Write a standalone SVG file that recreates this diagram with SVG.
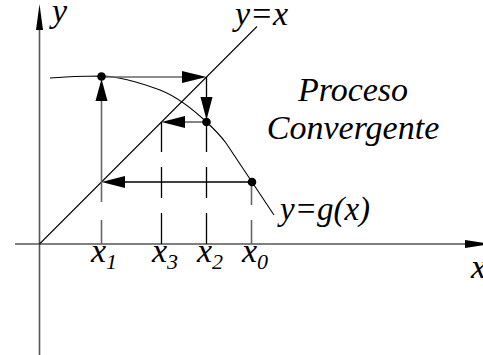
<svg xmlns="http://www.w3.org/2000/svg" width="483" height="355" viewBox="0 0 483 355">
<rect width="483" height="355" fill="#fff"/>
<g id="axes" stroke="#555" stroke-width="1.6" fill="none">
<line x1="39.5" y1="28" x2="39.5" y2="355"/>
<line x1="15" y1="244" x2="467" y2="244"/>
<polygon points="39.5,4 43,30 36,30" fill="#000" stroke="none"/>
<polygon points="491,244 465,240 465,248" fill="#000" stroke="none"/>
</g>
<g id="curves" stroke="#000" stroke-width="1.1" fill="none">
<line x1="39.5" y1="244" x2="257" y2="26.5"/>
<path d="M50,78 C67,76.5 85,76 101.5,76 C121,76.5 141,83 160,90 C175.6,96.1 191.1,107.6 206.5,122 C213,128 220,135 226,143 L274,215"/>
</g>
<g id="connectors" fill="none">
<g stroke="#666" stroke-width="1.6">
<path d="M101.5,100 V202 M101.5,220 V244"/>
<line x1="101.5" y1="77" x2="184" y2="77"/>
<line x1="206.5" y1="122" x2="184" y2="122"/>
<path d="M251.5,182 V205 M251.5,220 V244"/>
</g>
<g stroke="#000" stroke-width="1.3">
<line x1="206.5" y1="77" x2="206.5" y2="98"/>
<line x1="251.5" y1="182" x2="124" y2="182"/>
<path d="M161.5,122 V152 M161.5,167 V198 M161.5,213 V244"/>
<path d="M206.5,122 V152 M206.5,167 V198 M206.5,213 V244"/>
</g>
<g fill="#000" stroke="none">
<polygon points="101.5,79 107.5,101 95.5,101"/>
<polygon points="206.5,77 182,71 182,83"/>
<polygon points="206.5,120 200.5,97 212.5,97"/>
<polygon points="161.5,122 185,116 185,128"/>
<polygon points="101.5,182 125,176 125,188"/>
</g>
</g>
<g id="points" fill="#000">
<circle cx="101.5" cy="76.5" r="4.3"/>
<circle cx="206.5" cy="122" r="4.3"/>
<circle cx="252" cy="182" r="4.3"/>
</g>
<g id="labels">
<text x="52" y="22" font-family="Liberation Serif" font-style="italic" font-size="34">y</text>
<text x="235" y="25" font-family="Liberation Serif" font-style="italic" font-size="34">y=x</text>
<text x="353" y="101" text-anchor="middle" font-family="Liberation Serif" font-style="italic" font-size="34">Proceso</text>
<text x="353" y="139" text-anchor="middle" font-family="Liberation Serif" font-style="italic" font-size="34">Convergente</text>
<text x="280" y="220" font-family="Liberation Serif" font-style="italic" font-size="33">y=g(x)</text>
<text x="471" y="278" font-family="Liberation Serif" font-style="italic" font-size="34">x</text>
<text x="91" y="262" font-family="Liberation Serif" font-style="italic" font-size="34">x<tspan font-size="22" dy="7">1</tspan></text>
<text x="152" y="262" font-family="Liberation Serif" font-style="italic" font-size="34">x<tspan font-size="22" dy="7">3</tspan></text>
<text x="197" y="262" font-family="Liberation Serif" font-style="italic" font-size="34">x<tspan font-size="22" dy="7">2</tspan></text>
<text x="242" y="262" font-family="Liberation Serif" font-style="italic" font-size="34">x<tspan font-size="22" dy="7">0</tspan></text>
</g>
</svg>
